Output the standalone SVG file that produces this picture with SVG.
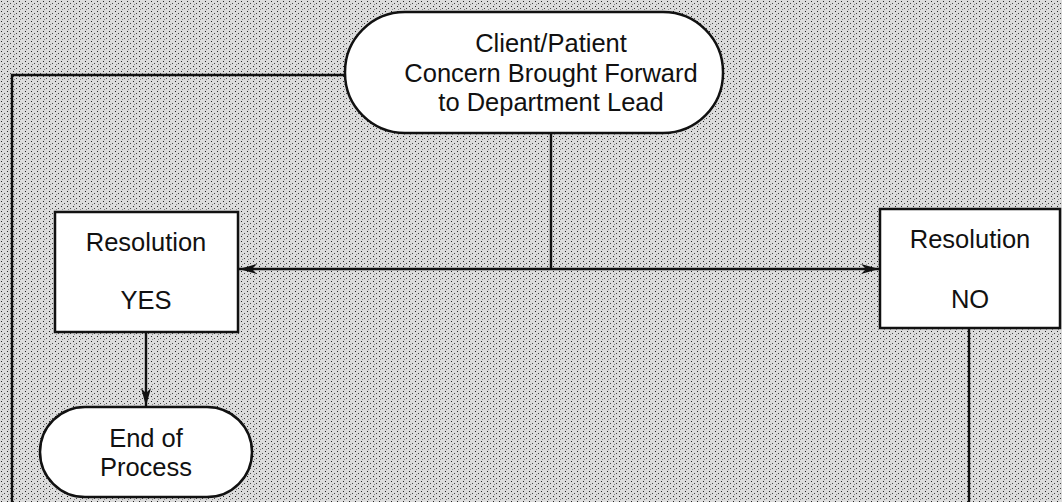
<svg xmlns="http://www.w3.org/2000/svg" width="1062" height="502" viewBox="0 0 1062 502">
<defs>
<style>
.shape{fill:#ffffff;stroke:#111;stroke-width:2.5}
.line{fill:none;stroke:#111;stroke-width:2.4}
.t{font-family:"Liberation Sans",Arial,sans-serif;font-size:25.5px;fill:#111;text-anchor:middle}
</style>
<pattern id="dots" width="6" height="5" patternUnits="userSpaceOnUse">
<rect width="6" height="5" fill="#dcdcdc"/>
<rect x="1" y="1" width="1" height="1" fill="#222"/>
<rect x="4" y="3" width="1" height="1" fill="#444"/>
<rect x="2" y="4" width="1" height="1" fill="#888"/>
</pattern>
<marker id="ah" viewBox="0 0 18 10" refX="18" refY="5" markerWidth="18" markerHeight="10" markerUnits="userSpaceOnUse" orient="auto-start-reverse">
<path d="M0,0 L18,5 L0,10 L5,5 Z" fill="#111"/>
</marker>
</defs>
<rect width="1062" height="502" fill="url(#dots)"/>
<g id="connectors">
<path class="line" d="M345,75 H12 V502"/>
<path class="line" d="M551,133 V269"/>
<path class="line" d="M239,269 H879" marker-start="url(#ah)" marker-end="url(#ah)"/>
<path class="line" d="M146,332 V406" marker-end="url(#ah)"/>
<path class="line" d="M969,328 V502"/>
</g>
<g id="start">
<rect class="shape" x="345" y="12" width="378" height="121" rx="60" ry="60"/>
<text class="t" x="551" y="52">Client/Patient</text>
<text class="t" x="551" y="82">Concern Brought Forward</text>
<text class="t" x="551" y="111">to Department Lead</text>
</g>
<g id="res-yes">
<rect class="shape" x="55" y="212" width="183" height="120"/>
<text class="t" x="146" y="251">Resolution</text>
<text class="t" x="146" y="309">YES</text>
</g>
<g id="res-no">
<rect class="shape" x="880" y="209" width="180" height="119"/>
<text class="t" x="970" y="248">Resolution</text>
<text class="t" x="970" y="308">NO</text>
</g>
<g id="end">
<rect class="shape" x="40" y="407" width="212" height="90" rx="45" ry="45"/>
<text class="t" x="146" y="447">End of</text>
<text class="t" x="146" y="476">Process</text>
</g>
</svg>
